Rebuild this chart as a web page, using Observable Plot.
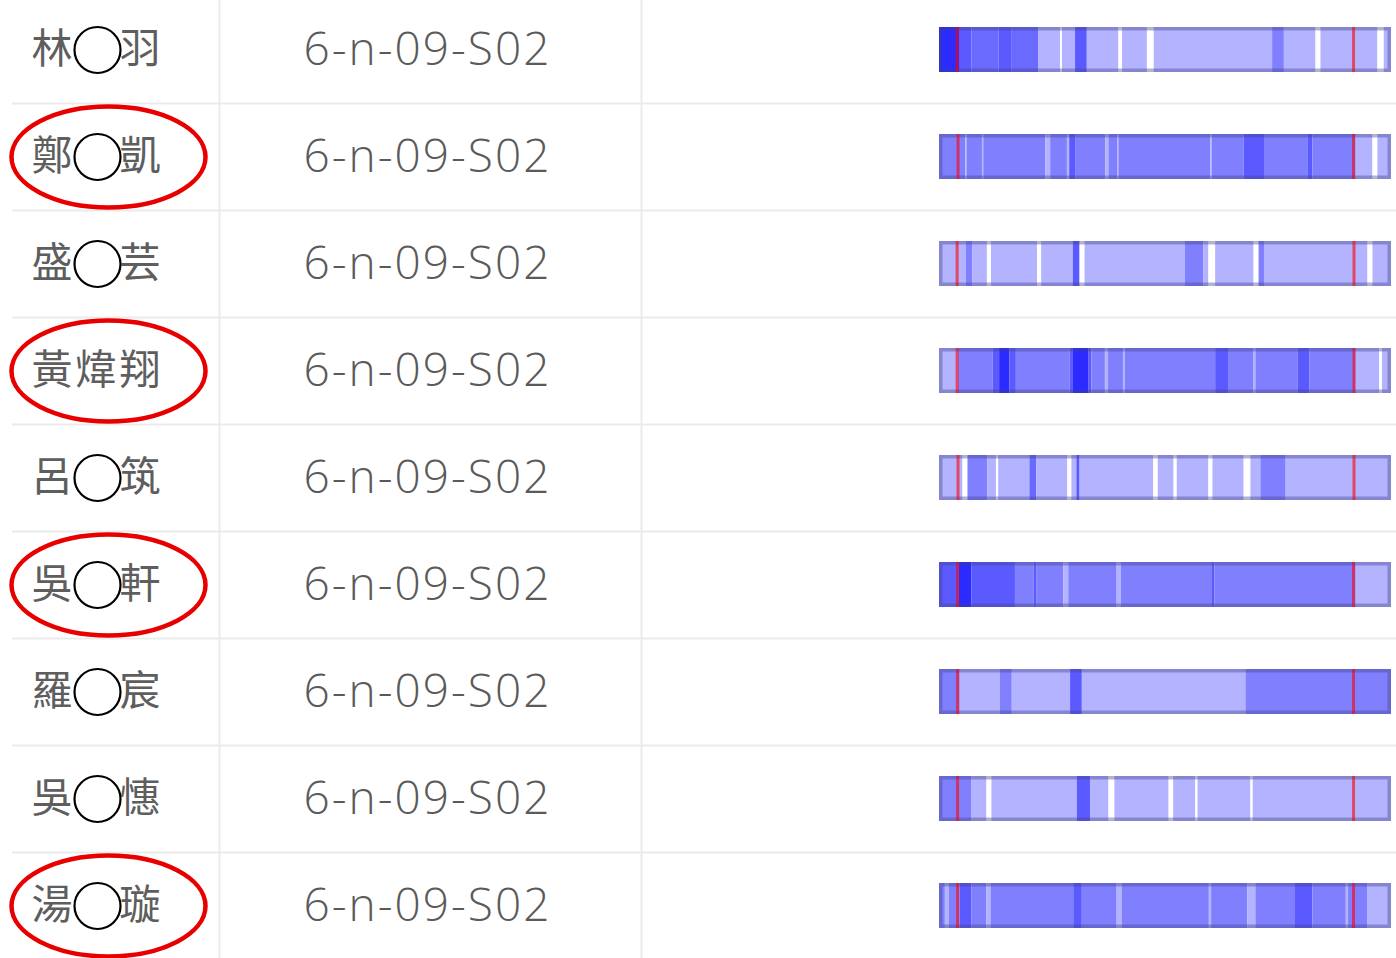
<!DOCTYPE html>
<html>
<head>
<meta charset="utf-8">
<script src="https://cdn.jsdelivr.net/npm/d3@7"></script>
<script src="https://cdn.jsdelivr.net/npm/@observablehq/plot@0.6"></script>
<style>
  html, body { margin: 0; padding: 0; background: #ffffff; }
  #chart svg { display: block; }
</style>
</head>
<body>
<div id="chart"></div>
<script>
// ---- data ----
const names = ["林◯羽", "鄭◯凱", "盛◯芸", "黃煒翔", "呂◯筑", "吳◯軒", "羅◯宸", "吳◯憓", "湯◯璇"];
const maskedMiddle = [true, true, true, false, true, true, true, true, true];
const circledInRed = [false, true, false, true, false, true, false, false, true];
const classCodes = ["6-n-09-S02", "6-n-09-S02", "6-n-09-S02", "6-n-09-S02", "6-n-09-S02", "6-n-09-S02", "6-n-09-S02", "6-n-09-S02", "6-n-09-S02"];

// timeline (percent of session), red markers at start / end
const timelineExtent = [0, 100];
const markerStart = [3.9, 4.1, 3.9, 3.9, 4.1, 4.0, 4.0, 4.0, 4.0];
const markerEnd = [91.6, 91.6, 91.7, 91.7, 91.7, 91.6, 91.6, 91.6, 91.6];

// segments: [start, end, activity level]
const row1Segments = [[0,4.6,4],[4.6,7.2,3],[7.2,13.2,2.5],[13.2,16.1,3],[16.1,22.0,2.5],[22.0,26.8,1],[26.8,27.2,0],[27.2,30.1,1],[30.1,32.7,3],[32.7,39.7,1],[39.7,40.5,0],[40.5,46.0,1],[46.0,47.5,0],[47.5,73.7,1],[73.7,76.3,2],[76.3,83.3,1],[83.3,84.4,0],[84.4,97.0,1],[97.0,98.4,0],[98.4,100,1]];
const row2Segments = [[0,5.8,2],[5.8,6.1,1],[6.1,9.5,2],[9.5,9.8,1],[9.8,23.5,2],[23.5,24.6,1],[24.6,28.3,2],[28.3,28.8,1],[28.8,30.1,3],[30.1,36.8,2],[36.8,37.5,1],[37.5,39.4,2],[39.4,39.7,1],[39.7,60.0,2],[60.0,60.4,1],[60.4,67.4,2],[67.4,71.9,3],[71.9,81.5,2],[81.5,82.6,3],[82.6,92.2,2],[92.2,95.9,1],[95.9,97.0,0],[97.0,100,1]];
const row3Segments = [[0,5.9,1],[5.9,7.4,2],[7.4,10.6,1],[10.6,11.5,0],[11.5,21.7,1],[21.7,22.6,0],[22.6,29.6,1],[29.6,31.1,3],[31.1,32.2,0],[32.2,54.4,1],[54.4,58.5,2],[58.5,59.6,1],[59.6,61.1,0],[61.1,69.6,1],[69.6,70.7,0],[70.7,71.9,2],[71.9,94.8,1],[94.8,95.9,0],[95.9,100,1]];
const row4Segments = [[0,4.2,1],[4.2,11.9,2],[11.9,13.3,3],[13.3,15.6,4],[15.6,17.0,3],[17.0,28.9,2],[28.9,29.5,3],[29.5,33.0,4],[33.0,33.7,3],[33.7,36.7,2],[36.7,37.4,1],[37.4,40.7,2],[40.7,41.1,1],[41.1,61.1,2],[61.1,64.1,3],[64.1,69.6,2],[69.6,70.0,1],[70.0,79.3,2],[79.3,81.9,3],[81.9,92.2,2],[92.2,97.4,1],[97.4,98.0,0],[98.0,100,1]];
const row5Segments = [[0,5.2,1],[5.2,6.3,0],[6.3,10.7,2],[10.7,12.6,1],[12.6,13.1,0],[13.1,20.0,1],[20.0,21.5,2.5],[21.5,28.4,1],[28.4,29.3,0],[29.3,30.4,1],[30.4,31.1,3],[31.1,47.4,1],[47.4,48.4,0],[48.4,51.9,1],[51.9,52.6,0],[52.6,59.6,1],[59.6,60.5,0],[60.5,67.4,1],[67.4,68.9,0],[68.9,71.1,1],[71.1,76.7,2],[76.7,100,1]];
const row6Segments = [[0,4.4,3],[4.4,7.2,4],[7.2,16.8,3],[16.8,20.9,2],[20.9,21.6,3],[21.6,27.5,2],[27.5,28.6,1],[28.6,39.3,2],[39.3,40.2,1],[40.2,60.4,2],[60.4,60.9,3],[60.9,92.2,2],[92.2,100,1]];
const row7Segments = [[0,4.6,2],[4.6,13.5,1],[13.5,16.1,2],[16.1,29.0,1],[29.0,31.6,3],[31.6,67.8,1],[67.8,100,2]];
const row8Segments = [[0,7.2,2],[7.2,10.5,1],[10.5,11.6,0],[11.6,30.5,1],[30.5,33.4,3],[33.4,37.5,1],[37.5,38.8,0],[38.8,50.8,1],[50.8,51.8,0],[51.8,56.7,1],[56.7,57.2,0],[57.2,68.9,1],[68.9,69.4,0],[69.4,100,1]];
const row9Segments = [[0,1.3,2],[1.3,2.2,1],[2.2,4.6,2],[4.6,7.2,3],[7.2,10.5,2],[10.5,11.4,1],[11.4,29.7,2],[29.7,31.6,3],[31.6,39.3,2],[39.3,40.4,1],[40.4,59.7,2],[59.7,60.2,1],[60.2,68.2,2],[68.2,70.0,1],[70.0,78.6,2],[78.6,82.6,3],[82.6,90.0,2],[90.0,90.5,1],[90.5,94.7,2],[94.7,100,1]];

const levelDomain = [0, 1, 2, 2.5, 3, 4];
const levelColors = ["#ffffff", "#b3b3ff", "#8080ff", "#6a6aff", "#5a5aff", "#2b2bff"];

// ---- derived tables ----
const allSegments = [row1Segments, row2Segments, row3Segments, row4Segments, row5Segments, row6Segments, row7Segments, row8Segments, row9Segments];
const segTable = allSegments.flatMap((segs, i) => segs.map(([a, b, l]) => ({row: names[i], start: a, end: b, level: l})));
const markers = names.flatMap((n, i) => [{row: n, t: markerStart[i]}, {row: n, t: markerEnd[i]}]);
const rowTable = names.map((n, i) => ({row: n, name: n, code: classCodes[i], masked: maskedMiddle[i], red: circledInRed[i]}));

// ellipse symbol (cubic bezier approximation)
const ellipse = {
  draw(ctx, size) {
    const rx = Math.sqrt(size / Math.PI), ry = rx * 0.52, k = 0.5523;
    ctx.moveTo(rx, 0);
    ctx.bezierCurveTo(rx, ry * k, rx * k, ry, 0, ry);
    ctx.bezierCurveTo(-rx * k, ry, -rx, ry * k, -rx, 0);
    ctx.bezierCurveTo(-rx, -ry * k, -rx * k, -ry, 0, -ry);
    ctx.bezierCurveTo(rx * k, -ry, rx, -ry * k, rx, 0);
    ctx.closePath();
  }
};

const plot = Plot.plot({
  width: 1396,
  height: 958,
  margin: 0,
  style: {background: "#ffffff"},
  x: {domain: timelineExtent, range: [939, 1391], axis: null},
  y: {type: "band", domain: names, range: [-4.5, 959], paddingInner: 0.58, paddingOuter: 0.29, align: 0.5, axis: null},
  color: {type: "ordinal", domain: levelDomain, range: levelColors},
  marks: [
    // column dividers
    Plot.frame({stroke: "#ebebeb", strokeWidth: 2, insetLeft: 219, insetRight: 1396 - 641, insetTop: -5, insetBottom: -5}),
    // row separators
    Plot.ruleY(names.slice(1), {y: d => d, dy: -53.5, stroke: "#ebebeb", strokeWidth: 2, insetLeft: 12}),
    // names
    Plot.text(rowTable, {y: "row", text: "name", frameAnchor: "left", dx: 31, textAnchor: "start",
      fontSize: 41, fontFamily: "Noto Sans CJK TC", fill: "#5e5e5e", style: {letterSpacing: "3px"}}),
    // privacy circles
    Plot.dot(rowTable.filter(d => d.masked), {y: "row", frameAnchor: "left", dx: 97, r: 23,
      fill: "#ffffff", stroke: "#000000", strokeWidth: 2.2}),
    // class codes
    Plot.text(rowTable, {y: "row", text: "code", frameAnchor: "left", dx: 427, textAnchor: "middle",
      fontSize: 46, fontFamily: "Open Sans", fontWeight: 300, fill: "#5a5a5a"}),
    // timeline segments
    Plot.barX(segTable, {x1: "start", x2: "end", y: "row", fill: "level"}),
    // bar outline
    Plot.barX(rowTable, {x1: () => timelineExtent[0], x2: () => timelineExtent[1], y: "row",
      fill: "none", stroke: "#40408a", strokeOpacity: 0.4, strokeWidth: 3.5, inset: 1.75}),
    // red markers
    Plot.tickX(markers, {x: "t", y: "row", stroke: "#ff0000", strokeWidth: 3, strokeOpacity: 0.6}),
    // red annotation ellipses
    Plot.dot(rowTable.filter(d => d.red), {y: "row", frameAnchor: "left", dx: 108, r: 97,
      symbol: ellipse, fill: "none", stroke: "#e80000", strokeWidth: 4.5})
  ]
});

// letter spacing for the class-code labels
d3.select(plot).selectAll("text").filter(function () { return /6-n/.test(this.textContent); })
  .attr("letter-spacing", "2px");
d3.select(plot).selectAll("text").filter(function () { return /[林鄭盛黃呂吳羅湯]/.test(this.textContent); })
  .attr("letter-spacing", "3px");

document.getElementById("chart").appendChild(plot);
</script>
</body>
</html>
